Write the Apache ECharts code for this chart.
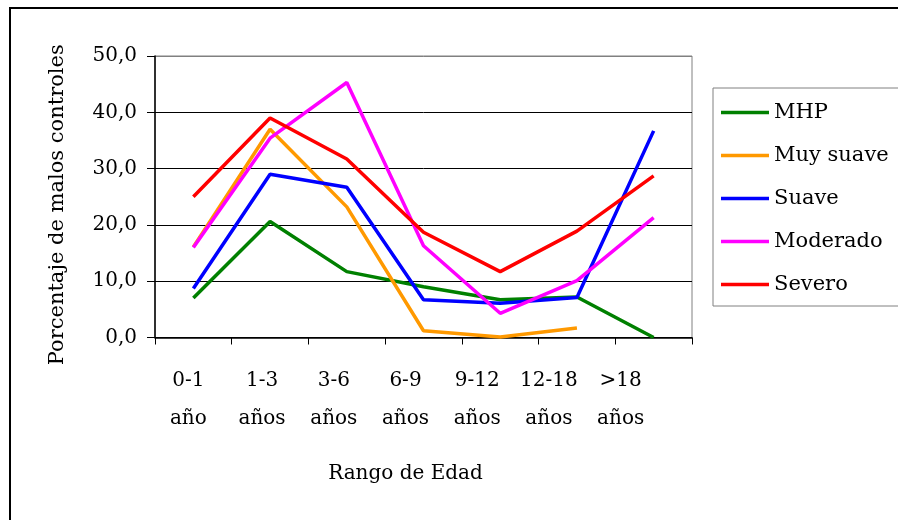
<!DOCTYPE html>
<html>
<head>
<meta charset="utf-8">
<title>Porcentaje de malos controles por rango de edad</title>
<script src="https://cdn.jsdelivr.net/npm/echarts@6/dist/echarts.min.js"></script>
<style>
  html, body { margin: 0; padding: 0; background: #ffffff; }
  #chart { width: 898px; height: 520px; }
</style>
</head>
<body>
<div id="chart"></div>
<script>
// Age ranges (two-line labels)
const ageRanges = ['0-1\naño', '1-3\naños', '3-6\naños', '6-9\naños', '9-12\naños', '12-18\naños', '>18\naños'];

// Percentage of poor controls per severity group
const mhp       = [7.0, 20.6, 11.7, 9.0, 6.7, 7.2, 0.0];
const muySuave  = [16.1, 37.0, 23.2, 1.2, 0.1, 1.7, null];
const suave     = [8.7, 29.0, 26.7, 6.7, 6.1, 7.1, 36.7];
const moderado  = [16.0, 35.4, 45.3, 16.3, 4.3, 10.1, 21.3];
const severo    = [25.0, 39.0, 31.7, 18.7, 11.7, 18.9, 28.7];

const yTicks = { min: 0, max: 50, step: 10 };

const FONT = 'DejaVu Serif';

const seriesDefs = [
  { name: 'MHP',       data: mhp,      color: '#008000' },
  { name: 'Muy suave', data: muySuave, color: '#FF9900' },
  { name: 'Suave',     data: suave,    color: '#0000FF' },
  { name: 'Moderado',  data: moderado, color: '#FF00FF' },
  { name: 'Severo',    data: severo,   color: '#FF0000' }
];

// small per-label left shift for the category labels
const labelShift = [5, 8, 13, 18, 23, 28, 33];
const rich = {};
labelShift.forEach((s, i) => {
  rich['c' + i] = {
    fontFamily: FONT, fontSize: 20, color: '#000', lineHeight: 38,
    align: 'center', padding: [0, 2 * s, 0, 0]
  };
});

// plain stroke used as the legend key
const LINE_ICON = 'path://M0,0 L48,0 L48,3.5 L0,3.5 Z';

const chart = echarts.init(document.getElementById('chart'), null, { renderer: 'canvas' });

chart.setOption({
  backgroundColor: '#ffffff',
  animation: false,
  textStyle: { fontFamily: FONT },
  graphic: [{
    type: 'rect',
    shape: { x: 10, y: 8, width: 1000, height: 600 },
    style: { fill: 'none', stroke: '#000', lineWidth: 2 },
    silent: true,
    z: 0
  }],
  grid: {
    left: 155, top: 56, right: 206, bottom: 182.5,
    show: true, borderColor: '#808080', borderWidth: 1, backgroundColor: 'transparent'
  },
  legend: {
    orient: 'vertical',
    left: 713, top: 88,
    padding: [14, 40, 11, 8],
    itemWidth: 48, itemHeight: 20, itemGap: 22,
    icon: LINE_ICON,
    borderColor: '#808080', borderWidth: 1, backgroundColor: '#fff',
    textStyle: { fontFamily: FONT, fontSize: 21, color: '#000', lineHeight: 20 },
    data: seriesDefs.map(s => s.name)
  },
  xAxis: {
    type: 'category',
    data: ageRanges,
    boundaryGap: true,
    axisLine: { lineStyle: { color: '#000', width: 1.5 } },
    axisTick: { show: true, alignWithLabel: false, length: 7, lineStyle: { color: '#000' } },
    axisLabel: {
      margin: 24,
      interval: 0,
      formatter: (v, i) => v.split('\n').map(line => '{c' + i + '|' + line + '}').join('\n'),
      rich: rich
    },
    name: 'Rango de Edad',
    nameLocation: 'middle',
    nameGap: 126,
    nameTextStyle: { fontFamily: FONT, fontSize: 20, color: '#000', padding: [0, 36, 0, 0] }
  },
  yAxis: {
    type: 'value',
    min: yTicks.min, max: yTicks.max, interval: yTicks.step,
    axisLine: { show: true, lineStyle: { color: '#000', width: 1.5 } },
    axisTick: { show: true, inside: false, length: 8, lineStyle: { color: '#000' } },
    axisLabel: {
      margin: 18,
      fontFamily: FONT, fontSize: 20, color: '#000',
      formatter: v => v.toFixed(1).replace('.', ',')
    },
    splitLine: {
      show: true,
      lineStyle: { color: ['#000', '#000', '#000', '#000', '#000', '#808080'], width: 1 }
    },
    name: 'Porcentaje de malos controles',
    nameLocation: 'middle',
    nameGap: 87,
    nameRotate: 90,
    nameTextStyle: { fontFamily: FONT, fontSize: 21, color: '#000', padding: [0, 16, 0, 0] }
  },
  series: seriesDefs.map(s => ({
    name: s.name,
    type: 'line',
    data: s.data,
    symbol: 'none',
    connectNulls: false,
    color: s.color,
    lineStyle: { color: s.color, width: 3.5 },
    itemStyle: { color: s.color }
  }))
});
</script>
</body>
</html>
